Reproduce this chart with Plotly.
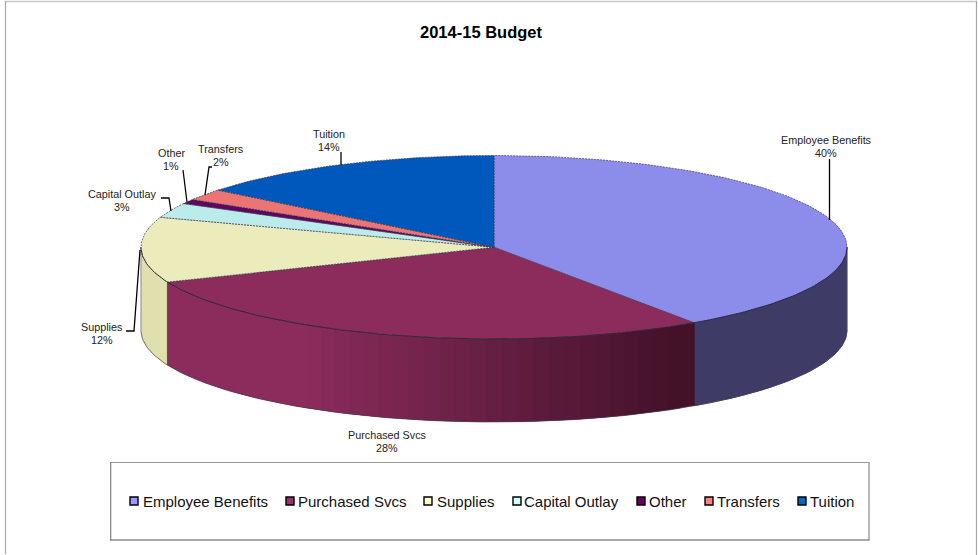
import numpy as np
import plotly.graph_objects as go

# ---- data ----
categories = ["Employee Benefits", "Purchased Svcs", "Supplies", "Capital Outlay", "Other", "Transfers", "Tuition"]
shares = [40.4, 28.4, 11.5, 2.6, 0.8, 2.0, 14.3]
pct_labels = ["40%", "28%", "12%", "3%", "1%", "2%", "14%"]
legend_colors = ["#9999FF", "#993366", "#FFFFCC", "#CCFFFF", "#660066", "#FF8080", "#0066CC"]
top_colors = ["#8C8CEB", "#8B2C5D", "#EBEBBC", "#BCEBEB", "#5E075E", "#EB7575", "#0058BC"]
wall_colors = ["#3E3C66", None, "#E0DFAE", "#A0C0C0", "#400440", "#A05050", "#003C80"]
title = "2014-15 Budget"

# ---- layout geometry (pixel-valued axes) ----
CX, CY, RX, RY, DEPTH = 494.0, 247.25, 353.0, 91.75, 83.0
grad_from, grad_to = (139, 44, 93), (66, 18, 40)
grad_start = 0.28
label_pos = [(826, 140), (387, 435), (102, 327), (122, 194), (171, 153), (221, 149), (329, 134)]
label_dy = 12.8
leaders = [
    [(829.5, 159), (829.5, 220)],
    [],
    [(126, 331), (134, 331), (140, 250)],
    [(161, 198), (169, 198), (171, 211)],
    [(183, 170), (187, 202)],
    [(212, 167), (209, 167), (205, 195)],
    [(341, 152), (341, 165)],
]
legend_swatch_x = [134, 290, 428, 517, 641, 709, 802]
legend_text_x = [142.5, 298, 436.5, 524, 648.5, 716.5, 809.5]
LEGEND_Y = 501


def ell(t, dy=0.0):
    return CX + RX * np.sin(t), CY - RY * np.cos(t) + dy


def arc(a, b):
    n = max(2, int(abs(b - a) / np.radians(1.0)) + 2)
    return np.linspace(a, b, n)


fig = go.Figure()
fractions = np.array(shares) / sum(shares)
edges = np.concatenate([[0.0], np.cumsum(fractions)]) * 2 * np.pi
FRONT_A, FRONT_B = np.pi / 2, 3 * np.pi / 2


def add_wall(a, b, color, name, lw=0.8):
    t = arc(a, b)
    x1, y1 = ell(t)
    x2, y2 = ell(t[::-1], DEPTH)
    fig.add_trace(go.Scatter(
        x=np.r_[x1, x2, x1[0]], y=np.r_[y1, y2, y1[0]], mode="lines", fill="toself",
        fillcolor=color, line=dict(color=color, width=lw), name=name,
        hoverinfo="name", showlegend=False))


# side walls
for i, name in enumerate(categories):
    a, b = max(edges[i], FRONT_A), min(edges[i + 1], FRONT_B)
    if b <= a:
        continue
    if wall_colors[i] is not None:
        add_wall(a, b, wall_colors[i], name)
    else:
        # shaded wall: strips painted left to right so each one overlaps its neighbour
        ts = np.linspace(b, a, 41)
        x_lo, x_hi = ell(b)[0], ell(a)[0]
        for k in range(40):
            xm = ell(0.5 * (ts[k] + ts[k + 1]))[0]
            f = np.clip(((xm - x_lo) / (x_hi - x_lo) - grad_start) / (1 - grad_start), 0, 1)
            c = [round(grad_from[j] + f * (grad_to[j] - grad_from[j])) for j in range(3)]
            add_wall(ts[k + 1], b if k == 0 else ts[k - 1], f"rgb({c[0]},{c[1]},{c[2]})", name, lw=0)

# wall edges and outer rim
t = arc(FRONT_A, FRONT_B)
x, y = ell(t, DEPTH)
fig.add_trace(go.Scatter(x=x, y=y, mode="lines", line=dict(color="#4A3A4A", width=0.7),
                         hoverinfo="skip", showlegend=False))
for e in edges[1:3]:
    xe, ye = ell(e)
    xb, yb = ell(e, DEPTH)
    fig.add_trace(go.Scatter(x=[xe, xb], y=[ye, yb], mode="lines", line=dict(color="#2A1020", width=0.7),
                             hoverinfo="skip", showlegend=False))
for xs in (CX - RX, CX + RX):
    fig.add_trace(go.Scatter(x=[xs, xs], y=[CY, CY + DEPTH], mode="lines", line=dict(color="#555566", width=0.6),
                             hoverinfo="skip", showlegend=False))

# top faces
for i, name in enumerate(categories):
    t = arc(edges[i], edges[i + 1])
    x, y = ell(t)
    fig.add_trace(go.Scatter(
        x=np.r_[CX, x, CX], y=np.r_[CY, y, CY], mode="lines", fill="toself",
        fillcolor=top_colors[i], line=dict(color="#3A3A4A", width=0.7, dash="2px,1px"),
        name=name, text=f"{name}: {pct_labels[i]}", hoverinfo="text", showlegend=False))
# solid dark front rim of the top face
t = arc(FRONT_A, FRONT_B)
x, y = ell(t)
fig.add_trace(go.Scatter(x=x, y=y, mode="lines", line=dict(color="#2A2030", width=0.8),
                         hoverinfo="skip", showlegend=False))

# leader lines
for pts in leaders:
    if pts:
        fig.add_trace(go.Scatter(x=[p[0] for p in pts], y=[p[1] for p in pts], mode="lines",
                                 line=dict(color="#000000", width=1.3), hoverinfo="skip", showlegend=False))

# legend swatches
for i, name in enumerate(categories):
    fig.add_trace(go.Scatter(x=[legend_swatch_x[i]], y=[LEGEND_Y], mode="markers",
                             marker=dict(symbol="square", size=8, color=legend_colors[i],
                                         line=dict(color="#000000", width=1.4)),
                             name=name, hoverinfo="name", showlegend=False))

annotations = [dict(x=480.5, y=31.5, xref="x", yref="y", text=f"<b>{title}</b>", showarrow=False,
                    font=dict(family="Liberation Sans", size=16.5, color="#000000"))]
for i, name in enumerate(categories):
    lx, ly = label_pos[i]
    annotations.append(dict(x=lx, y=ly, xref="x", yref="y", text=name, showarrow=False,
                            font=dict(family="Liberation Sans", size=10.8, color="#222222")))
    annotations.append(dict(x=lx, y=ly + label_dy, xref="x", yref="y", text=pct_labels[i], showarrow=False,
                            font=dict(family="Liberation Sans", size=10.8, color="#222222")))
    annotations.append(dict(x=legend_text_x[i], y=LEGEND_Y, xref="x", yref="y", text=name, showarrow=False,
                            xanchor="left", xshift=-2,
                            font=dict(family="Liberation Sans", size=15, color="#111111")))


def seg(x0, y0, x1, y1, color, width):
    return dict(type="line", xref="x", yref="y", x0=x0, y0=y0, x1=x1, y1=y1, layer="below",
                line=dict(color=color, width=width))


shapes = [
    # chart frame
    seg(5, 1.5, 976.5, 1.5, "#C8C8C8", 1.5),
    seg(5.5, 1, 5.5, 554, "#A8A8A8", 1.2),
    seg(976.5, 1, 976.5, 555, "#A8A8A8", 1.2),
    # legend box
    seg(110.5, 462.5, 869, 462.5, "#999999", 1.0),
    seg(110.7, 462, 110.7, 540, "#8A8A8A", 1.3),
    seg(869, 462, 869, 540, "#A0A0A0", 1.5),
    seg(110, 540, 869.5, 540, "#555555", 1.2),
]

fig.update_layout(
    width=978, height=555, margin=dict(l=0, r=0, t=0, b=0),
    paper_bgcolor="#FFFFFF", plot_bgcolor="#FFFFFF", showlegend=False,
    xaxis=dict(range=[0, 978], visible=False, fixedrange=True),
    yaxis=dict(range=[555, 0], visible=False, fixedrange=True),
    annotations=annotations, shapes=shapes,
)
fig.write_html("out.html", post_script="document.body.style.margin='0';document.body.style.overflow='hidden';",
               config={"displayModeBar": False})
